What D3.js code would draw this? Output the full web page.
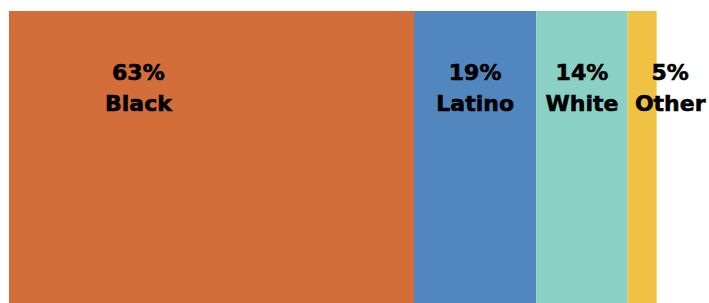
<!DOCTYPE html>
<html>
<head>
<meta charset="utf-8">
<script src="https://cdn.jsdelivr.net/npm/d3@7"></script>
<style>
  body { margin: 0; background: #fff; }
  .label { font-family: "DejaVu Sans", sans-serif; font-weight: bold; font-size: 22px; fill: #000; stroke: #000; stroke-width: 0.6px; }
</style>
</head>
<body>
<svg id="chart"></svg>
<script>
var width = 709, height = 303;
var margin = {top: 11, left: 9, right: 53, bottom: 0};

// shares of the group
var groups = ["Black", "Latino", "White", "Other"];
var shares = [62.6, 18.9, 14.1, 4.5];
var colors = ["#D36E3B", "#5286BF", "#8AD0C4", "#F0C244"];
// where the label sits (in percent units), null = middle of segment
var labelAt = [20, null, null, 102.2];

var svg = d3.select("#chart")
  .attr("width", width)
  .attr("height", height);

var x = d3.scaleLinear().domain([0, 100]).range([margin.left, width - margin.right]);

var data = [];
var start = 0;
groups.forEach(function(g, i){
  data.push({name: g, value: shares[i], x0: start, x1: start + shares[i], color: colors[i], label: labelAt[i]});
  start += shares[i];
});

function labelX(d){ return d.label === null ? x((d.x0 + d.x1) / 2) : x(d.label); }

svg.selectAll(".seg")
  .data(data)
  .enter().append("rect")
  .attr("class", "seg")
  .attr("x", function(d){ return x(d.x0); })
  .attr("y", margin.top)
  .attr("width", function(d){ return x(d.x1) - x(d.x0); })
  .attr("height", height - margin.top - margin.bottom)
  .style("fill", function(d){ return d.color; });

var labels = svg.selectAll(".label")
  .data(data)
  .enter().append("text")
  .attr("class", "label")
  .attr("text-anchor", "middle")
  .attr("x", labelX);

labels.append("tspan")
  .attr("y", 80)
  .text(function(d){ return Math.round(d.value) + "%"; });

labels.append("tspan")
  .attr("x", labelX)
  .attr("y", 111)
  .text(function(d){ return d.name; });
</script>
</body>
</html>
